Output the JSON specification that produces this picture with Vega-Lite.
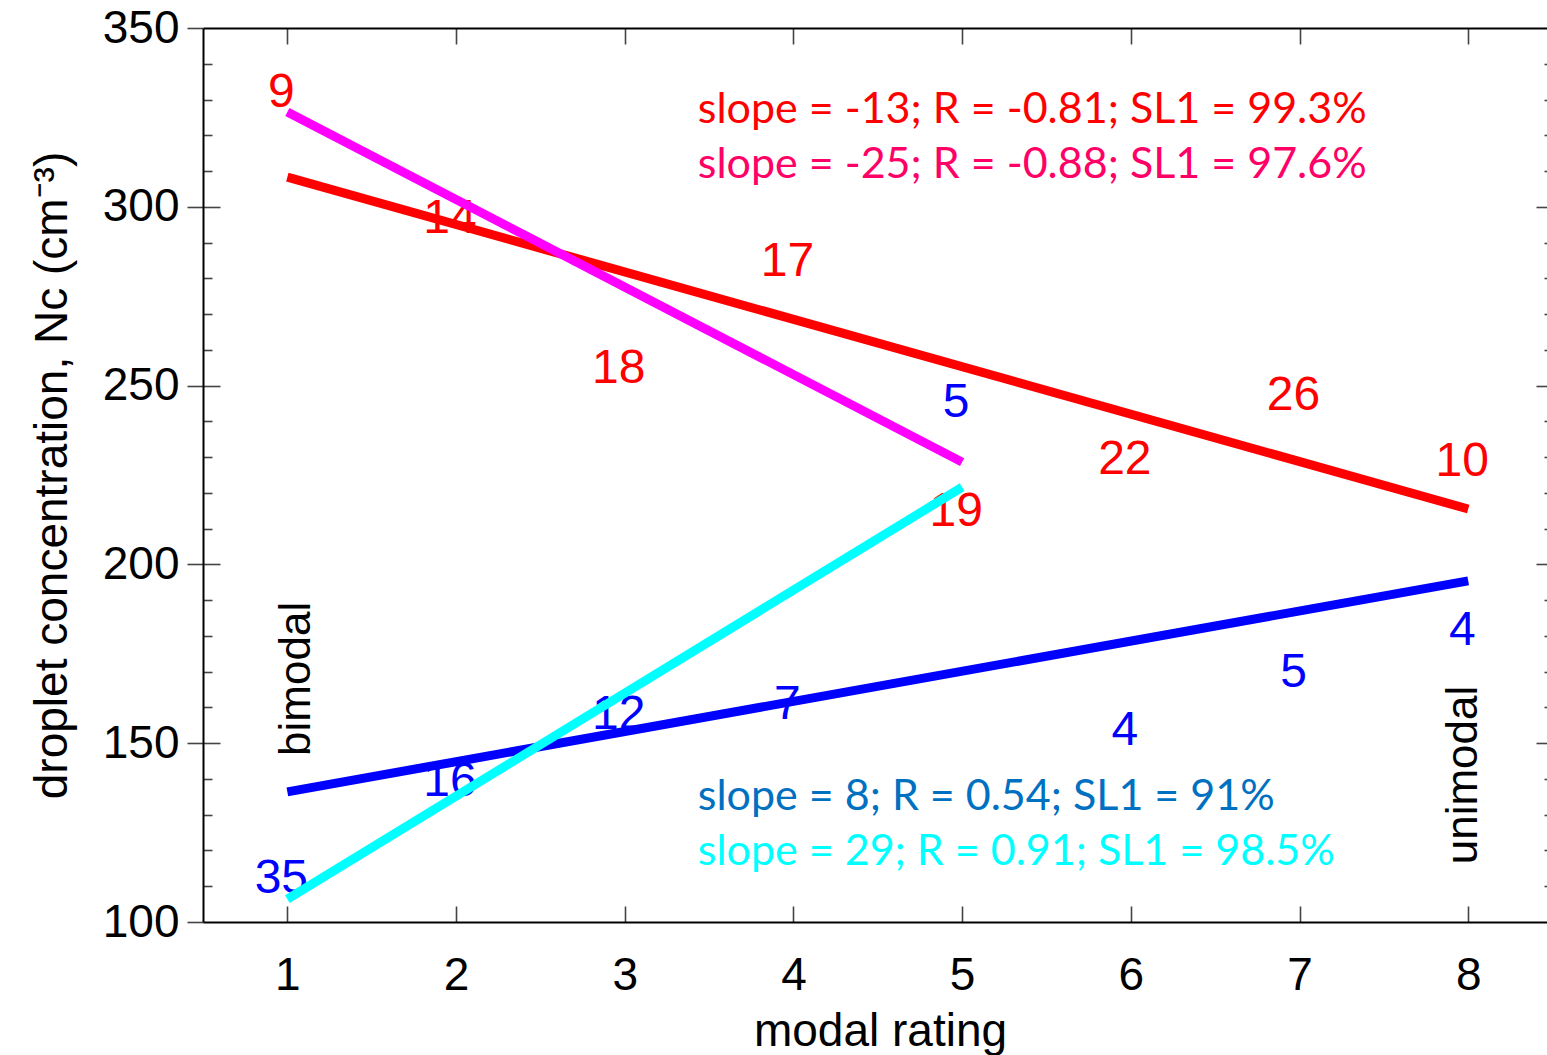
{
  "$schema": "https://vega.github.io/schema/vega-lite/v6.json",
  "width": 1344,
  "height": 894,
  "autosize": {"type": "none"},
  "padding": {"left": 203, "top": 28, "right": 0, "bottom": 133},
  "background": "white",
  "config": {
    "view": {"stroke": null},
    "axis": {
      "grid": false,
      "domainColor": "#000000",
      "domainWidth": 2,
      "tickColor": "#444444",
      "tickWidth": 1.6,
      "labelFont": "Liberation Sans",
      "titleFont": "Liberation Sans",
      "labelColor": "#000000",
      "titleColor": "#000000",
      "titleFontWeight": "normal",
      "labelFlush": false,
      "labelOverlap": false
    }
  },
  "datasets": {
    "lines": [
      {"series": "red", "x": 1, "y": 308.3},
      {"series": "red", "x": 8, "y": 215.5},
      {"series": "magenta", "x": 1, "y": 326.5},
      {"series": "magenta", "x": 5, "y": 228.6},
      {"series": "blue", "x": 1, "y": 136.4},
      {"series": "blue", "x": 8, "y": 195.4},
      {"series": "cyan", "x": 1, "y": 106.4},
      {"series": "cyan", "x": 5, "y": 221.6}
    ],
    "counts": [
      {"series": "red", "x": 1, "y": 332.7, "n": "9"},
      {"series": "red", "x": 2, "y": 297.3, "n": "14"},
      {"series": "red", "x": 3, "y": 255.5, "n": "18"},
      {"series": "red", "x": 4, "y": 285.4, "n": "17"},
      {"series": "red", "x": 5, "y": 215.6, "n": "19"},
      {"series": "red", "x": 6, "y": 230.0, "n": "22"},
      {"series": "red", "x": 7, "y": 248.0, "n": "26"},
      {"series": "red", "x": 8, "y": 229.5, "n": "10"},
      {"series": "blue", "x": 1, "y": 112.9, "n": "35"},
      {"series": "blue", "x": 2, "y": 140.0, "n": "16"},
      {"series": "blue", "x": 3, "y": 158.7, "n": "12"},
      {"series": "blue", "x": 4, "y": 161.5, "n": "7"},
      {"series": "blue", "x": 5, "y": 246.0, "n": "5"},
      {"series": "blue", "x": 6, "y": 154.3, "n": "4"},
      {"series": "blue", "x": 7, "y": 170.5, "n": "5"},
      {"series": "blue", "x": 8, "y": 182.2, "n": "4"}
    ],
    "stats": [
      {"fit": "red", "x": 3.433, "y": 323.4, "label": "slope = -13; R = -0.81; SL1 = 99.3%"},
      {"fit": "magenta", "x": 3.433, "y": 308.0, "label": "slope = -25; R = -0.88; SL1 = 97.6%"},
      {"fit": "blue", "x": 3.433, "y": 131.3, "label": "slope = 8; R = 0.54; SL1 = 91%"},
      {"fit": "cyan", "x": 3.433, "y": 115.9, "label": "slope = 29; R = 0.91; SL1 = 98.5%"}
    ],
    "modes": [
      {"label": "bimodal", "x": 1.133, "y": 168.0},
      {"label": "unimodal", "x": 8.051, "y": 141.1}
    ]
  },
  "layer": [
    {
      "data": {"name": "counts"},
      "mark": {"type": "text", "font": "Liberation Sans", "fontSize": 48, "align": "center", "baseline": "middle", "dx": -6, "dy": 3},
      "encoding": {
        "x": {"field": "x", "type": "quantitative", "scale": {"domain": [0.5, 8.467], "nice": false, "zero": false},
              "axis": {"orient": "top", "values": [1, 2, 3, 4, 5, 6, 7, 8], "tickSize": -16, "labels": false, "title": null, "domain": true}},
        "y": {"field": "y", "type": "quantitative", "scale": {"domain": [100, 350], "nice": false, "zero": false},
              "axis": {"orient": "right", "values": [150, 200, 250, 300], "tickSize": -11, "labels": false, "title": null, "domain": false}},
        "text": {"field": "n"},
        "color": {"field": "series", "type": "nominal", "scale": {"domain": ["red", "blue"], "range": ["#FF0000", "#0000FF"]}, "legend": null}
      }
    },
    {
      "data": {"name": "stats"},
      "mark": {"type": "text", "font": "Lato", "fontSize": 43, "align": "left", "baseline": "alphabetic"},
      "encoding": {
        "x": {"field": "x", "type": "quantitative", "scale": {"domain": [0.5, 8.467], "nice": false, "zero": false}, "axis": null},
        "y": {"field": "y", "type": "quantitative", "scale": {"domain": [100, 350], "nice": false, "zero": false},
              "axis": {"orient": "left", "values": [110, 120, 130, 140, 160, 170, 180, 190, 210, 220, 230, 240, 260, 270, 280, 290, 310, 320, 330, 340], "tickSize": -9, "labels": false, "title": null, "domain": false}},
        "text": {"field": "label"},
        "color": {"field": "fit", "type": "nominal", "scale": {"domain": ["red", "magenta", "blue", "cyan"], "range": ["#FF0000", "#FF0066", "#0070C0", "#00FFFF"]}, "legend": null}
      }
    },
    {
      "data": {"name": "modes"},
      "mark": {"type": "text", "font": "Liberation Sans", "fontSize": 44, "align": "center", "baseline": "alphabetic", "angle": 270, "color": "#000000"},
      "encoding": {
        "x": {"field": "x", "type": "quantitative", "scale": {"domain": [0.5, 8.467], "nice": false, "zero": false}, "axis": null},
        "y": {"field": "y", "type": "quantitative", "scale": {"domain": [100, 350], "nice": false, "zero": false},
              "axis": {"orient": "left", "values": [150, 200, 250, 300], "tickSize": -17, "labels": false, "title": null, "domain": false}},
        "text": {"field": "label"}
      }
    },
    {
      "data": {"name": "lines"},
      "transform": [{"filter": "datum.series == 'red' || datum.series == 'magenta'"}],
      "mark": {"type": "line", "strokeWidth": 9, "strokeCap": "butt"},
      "encoding": {
        "x": {"field": "x", "type": "quantitative", "scale": {"domain": [0.5, 8.467], "nice": false, "zero": false},
              "axis": {"orient": "bottom", "values": [1, 2, 3, 4, 5, 6, 7, 8], "tickSize": -16, "labelPadding": 47, "labelFontSize": 46,
                       "title": "modal rating", "titleFontSize": 46, "titleX": 677, "titleY": 123, "titleBaseline": "alphabetic", "titleAlign": "center", "domain": true}},
        "y": {"field": "y", "type": "quantitative", "scale": {"domain": [100, 350], "nice": false, "zero": false},
              "axis": {"orient": "left", "values": [100, 150, 200, 250, 300, 350], "tickSize": 16, "labelPadding": 8, "labelFontSize": 46,
                       "title": "droplet concentration, Nc (cm⁻³)", "titleFontSize": 46, "titleAngle": 270, "titleX": -137, "titleY": 447, "titleBaseline": "alphabetic", "titleAlign": "center", "domain": true}},
        "color": {"field": "series", "type": "nominal", "sort": ["red", "magenta"], "scale": {"domain": ["red", "magenta"], "range": ["#FF0000", "#FF00FF"]}, "legend": null}
      }
    },
    {
      "data": {"name": "lines"},
      "transform": [{"filter": "datum.series == 'blue' || datum.series == 'cyan'"}],
      "mark": {"type": "line", "strokeWidth": 9, "strokeCap": "butt"},
      "encoding": {
        "x": {"field": "x", "type": "quantitative", "scale": {"domain": [0.5, 8.467], "nice": false, "zero": false}, "axis": null},
        "y": {"field": "y", "type": "quantitative", "scale": {"domain": [100, 350], "nice": false, "zero": false},
              "axis": {"orient": "right", "values": [110, 120, 130, 140, 160, 170, 180, 190, 210, 220, 230, 240, 260, 270, 280, 290, 310, 320, 330, 340], "tickSize": -3, "labels": false, "title": null, "domain": false}},
        "color": {"field": "series", "type": "nominal", "sort": ["blue", "cyan"], "scale": {"domain": ["blue", "cyan"], "range": ["#0000FF", "#00FFFF"]}, "legend": null}
      }
    }
  ],
  "resolve": {
    "axis": {"x": "independent", "y": "independent"},
    "scale": {"color": "independent"}
  }
}
